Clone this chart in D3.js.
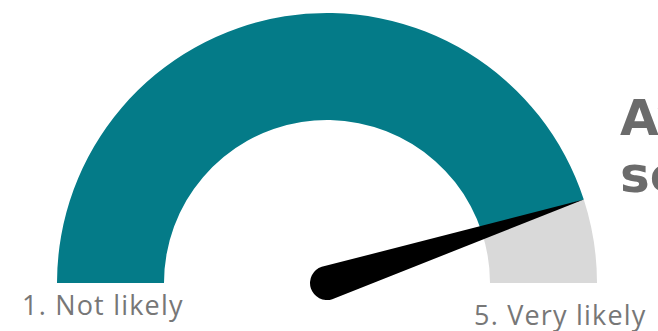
<!DOCTYPE html>
<html>
<head>
<meta charset="utf-8">
<script src="https://cdn.jsdelivr.net/npm/d3@7"></script>
<style>
  body { margin: 0; background: #fff; }
  svg { display: block; }
</style>
</head>
<body>
<div id="graph"></div>
<script>
// gauge data
var scaleEnds = [1, 5];
var endLabels = ["1. Not likely", "5. Very likely"];
var scoreValue = [4.6];
var titleLines = ["Average", "score"];

var w = 658, h = 331;
var cx = 327, cy = 283;
var outerR = 270, innerR = 163;

var svg = d3.select("#graph").append("svg")
    .attr("width", w)
    .attr("height", h);

var angle = d3.scaleLinear()
    .domain(scaleEnds)
    .range([-Math.PI / 2, Math.PI / 2]);

var arc = d3.arc()
    .innerRadius(innerR)
    .outerRadius(outerR);

var g = svg.append("g")
    .attr("transform", "translate(" + cx + "," + cy + ")");

// background (remaining part)
g.append("path")
    .attr("d", arc({startAngle: angle(scoreValue[0]), endAngle: angle(scaleEnds[1])}))
    .attr("fill", "#d9d9d9");

// filled part
g.append("path")
    .attr("d", arc({startAngle: angle(scaleEnds[0]), endAngle: angle(scoreValue[0])}))
    .attr("fill", "#047b88");

// needle
var a = angle(scoreValue[0]);
var tipX = Math.sin(a) * outerR, tipY = -Math.cos(a) * outerR;
var baseR = 17;
var px = Math.cos(a) * baseR, py = Math.sin(a) * baseR;
var needle = d3.path();
needle.moveTo(px, py);
needle.lineTo(tipX, tipY);
needle.lineTo(-px, -py);
needle.arc(0, 0, baseR, Math.atan2(-py, -px), Math.atan2(py, px), true);
needle.closePath();
g.append("path")
    .attr("d", needle.toString())
    .attr("fill", "#000");

// end labels
var labelPos = [[22, 315], [474, 325]];
svg.selectAll(".end-label")
    .data(endLabels)
    .enter().append("text")
    .attr("class", "end-label")
    .attr("x", function(d, i) { return labelPos[i][0]; })
    .attr("y", function(d, i) { return labelPos[i][1]; })
    .style("font-family", "'Open Sans', sans-serif")
    .style("font-size", "27px")
    .style("letter-spacing", "1.2px")
    .attr("fill", "#777")
    .text(function(d) { return d; });

// title (runs off the right edge)
svg.selectAll(".title")
    .data(titleLines)
    .enter().append("text")
    .attr("class", "title")
    .attr("x", 620)
    .attr("y", function(d, i) { return 135 + i * 57; })
    .style("font-family", "'DejaVu Sans', sans-serif")
    .style("font-weight", "bold")
    .style("font-size", "50px")
    .attr("fill", "#6b6b6b")
    .text(function(d) { return d; });
</script>
</body>
</html>
